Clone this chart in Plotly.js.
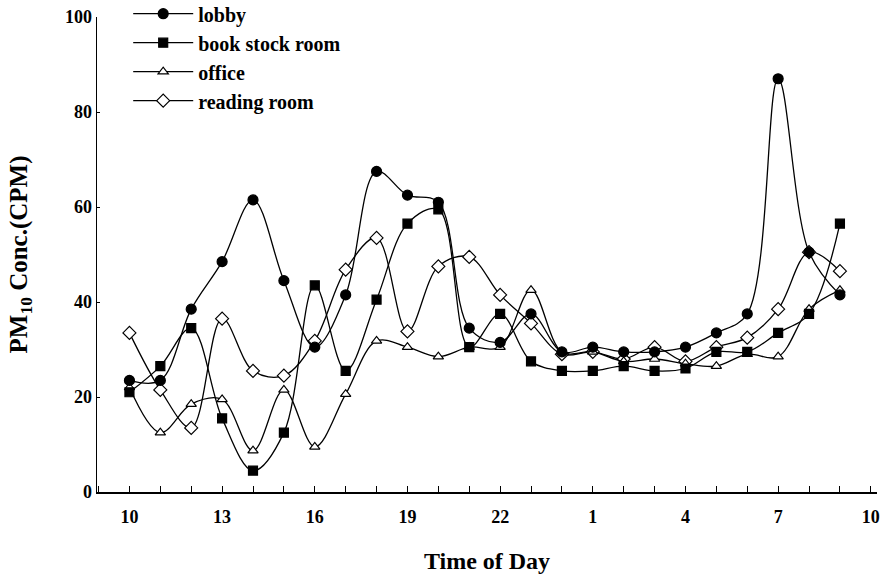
<!DOCTYPE html>
<html>
<head>
<meta charset="utf-8">
<script src="https://cdn.plot.ly/plotly-3.0.1.min.js"></script>
<style>
html,body{margin:0;padding:0;background:#fff;}
#chart{width:893px;height:574px;}
</style>
</head>
<body>
<div id="chart"></div>
<script>
// Hours of the day, from 10:00 through 9:00 the next morning
var hours = [10, 11, 12, 13, 14, 15, 16, 17, 18, 19, 20, 21, 22, 23, 0, 1, 2, 3, 4, 5, 6, 7, 8, 9];
var tickHours = [10, 13, 16, 19, 22, 1, 4, 7, 10];

var lobby = [23.5, 23.5, 38.5, 48.5, 61.5, 44.5, 30.5, 41.5, 67.5, 62.5, 61, 34.5, 31.5, 37.5, 29.5, 30.5, 29.5, 29.5, 30.5, 33.5, 37.5, 87, 50.5, 41.5];
var bookStockRoom = [21, 26.5, 34.5, 15.5, 4.5, 12.5, 43.5, 25.5, 40.5, 56.5, 59.5, 30.5, 37.5, 27.5, 25.5, 25.5, 26.5, 25.5, 26, 29.5, 29.5, 33.5, 37.5, 56.5];
var office = [22, 12.5, 18.5, 19.5, 8.7, 21.5, 9.5, 20.6, 31.8, 30.5, 28.5, 30.5, 30.5, 42.5, 29.5, 29.5, 27.5, 28, 27, 26.5, 29, 28.5, 38.5, 42.5];
var readingRoom = [33.5, 21.5, 13.5, 36.5, 25.5, 24.5, 31.8, 46.8, 53.5, 33.8, 47.5, 49.5, 41.5, 35.5, 29, 29.5, 28, 30.5, 27.5, 30.5, 32.5, 38.5, 50.5, 46.5];

var seriesNames = ['lobby', 'book stock room', 'office', 'reading room'];

// sequential position of each hour on the axis
var xpos = hours.map(function (h, i) { return i; });
var tickPos = tickHours.map(function (h, i) { return i * 3; });
var tickText = tickHours.map(function (h) { return String(h); });

var FONT = 'Liberation Serif, Times New Roman, serif';

function mk(name, y, symbol, fill, size, rank) {
  return {
    type: 'scatter', mode: 'lines+markers', name: name, legendrank: rank,
    x: xpos, y: y,
    line: {color: '#000', width: 1.3, shape: 'spline', smoothing: 1.0},
    marker: {symbol: symbol, size: size, color: fill, line: {color: '#000', width: 1.2}},
    cliponaxis: false
  };
}

// drawn from back to front; legend order set by legendrank
var data = [
  mk(seriesNames[3], readingRoom, 'diamond', '#fff', 10, 4),
  mk(seriesNames[2], office, 'triangle-up', '#fff', 9, 3),
  mk(seriesNames[1], bookStockRoom, 'square', '#000', 9, 2),
  mk(seriesNames[0], lobby, 'circle', '#000', 10, 1)
];

var layout = {
  width: 893, height: 574,
  margin: {l: 97, r: 16, t: 17, b: 82, autoexpand: false},
  paper_bgcolor: '#fff', plot_bgcolor: '#fff',
  showlegend: true,
  legend: {
    x: 0.04, y: 1.048, xanchor: 'left', yanchor: 'top',
    bgcolor: 'rgba(0,0,0,0)', itemwidth: 60,
    font: {family: FONT, size: 20, color: '#000', weight: 'bold'},
    tracegroupgap: 0
  },
  xaxis: {
    range: [-1.05, 24.2],
    tickmode: 'array', tickvals: tickPos, ticktext: tickText,
    ticks: 'inside', ticklen: 6, tickwidth: 1, tickcolor: '#000',
    minor: {dtick: 1, tick0: 0, ticks: 'inside', ticklen: 6, tickwidth: 1, tickcolor: '#000'},
    showline: true, linecolor: '#000', linewidth: 1.5,
    showgrid: false, zeroline: false,
    ticklabelstandoff: 8,
    tickfont: {family: FONT, size: 18, color: '#000', weight: 'bold'},
    title: {text: 'Time of Day', standoff: 30, font: {family: FONT, size: 24, color: '#000', weight: 'bold'}}
  },
  yaxis: {
    range: [0, 100], dtick: 20,
    ticks: 'inside', ticklen: 3, tickwidth: 1, tickcolor: '#000',
    showline: true, linecolor: '#000', linewidth: 1.5,
    showgrid: false, zeroline: false,
    tickfont: {family: FONT, size: 18, color: '#000', weight: 'bold'},
    title: {text: 'PM<sub>10</sub> Conc.(CPM)', standoff: 30, font: {family: FONT, size: 25, color: '#000', weight: 'bold'}}
  }
};

Plotly.newPlot('chart', data, layout, {staticPlot: true, displayModeBar: false});
</script>
</body>
</html>
